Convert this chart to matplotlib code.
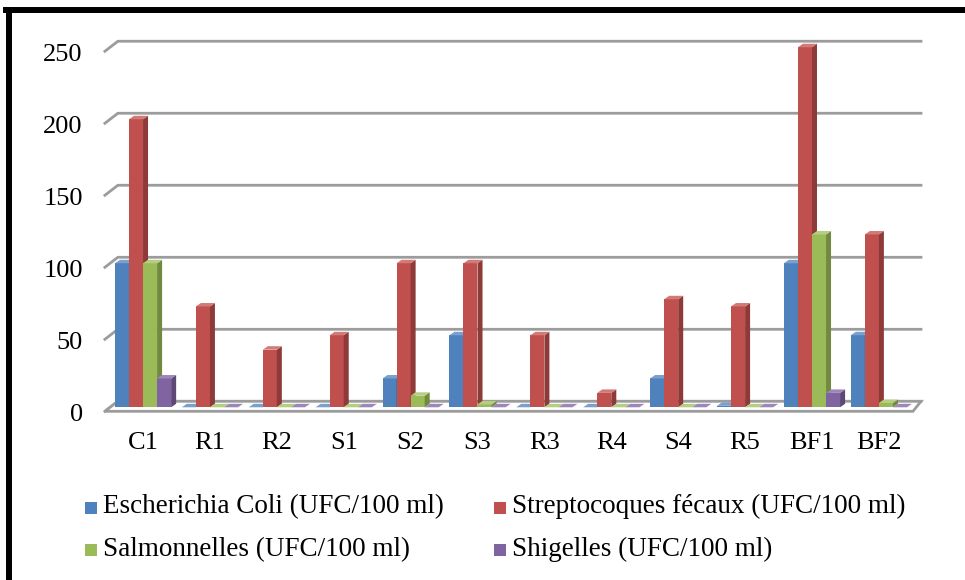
import matplotlib
matplotlib.use("Agg")
import matplotlib.pyplot as plt
from matplotlib.patches import Polygon, Rectangle
from matplotlib.lines import Line2D

plt.rcParams['font.family'] = ['Liberation Serif', 'DejaVu Serif']

# données (UFC/100 ml)
categories = ['C1', 'R1', 'R2', 'S1', 'S2', 'S3', 'R3', 'R4', 'S4', 'R5', 'BF1', 'BF2']
ecoli = [100, 0, 0, 0, 20, 50, 0, 0, 20, 1, 100, 50]
strep = [200, 70, 40, 50, 100, 100, 50, 10, 75, 70, 250, 120]
salmo = [100, 0, 0, 0, 8, 2, 0, 0, 0, 0, 120, 3]
shige = [20, 0, 0, 0, 0, 0, 0, 0, 0, 0, 10, 0]
series_names = ['Escherichia Coli (UFC/100 ml)', 'Streptocoques fécaux (UFC/100 ml)',
                'Salmonnelles (UFC/100 ml)', 'Shigelles (UFC/100 ml)']
y_ticks = [0, 50, 100, 150, 200, 250]

# couleurs style Excel : face, côté, dessus
colors = [('#4f81bd', '#3a6293', '#7aa0d0'),
          ('#c0504d', '#8e3a38', '#d27a77'),
          ('#9bbb59', '#728a40', '#b5cf80'),
          ('#8064a2', '#5d4877', '#9d86ba')]

fig = plt.figure(figsize=(9.65, 5.8), dpi=100)
ax = fig.add_axes([0.1087, 0.2891, 0.8471, 0.6419])
ax.set_xlim(-0.57, 11.65)
ax.set_ylim(-3, 255)
for s in ax.spines.values():
    s.set_visible(False)

bw = 0.21      # largeur barre (catégories)
dx = 0.075     # profondeur en x
dy = 2.4       # profondeur en y
gx = 0.194     # décalage mur arrière en x
gy_back = 4.15
gy_front = -2.8
x_left = -0.57
x_right = 11.63

# mur arrière + quadrillage
grid_c = '#9c9c9c'
for v in y_ticks:
    ax.add_line(Line2D([x_left, x_left + gx, x_right], [v + gy_front, v + gy_back, v + gy_back],
                       color=grid_c, lw=2.0, zorder=1, clip_on=False))

# plancher
floor = Polygon([(x_left, gy_front), (11.51, gy_front), (x_right, gy_back), (x_left + gx, gy_back)],
                closed=True, facecolor='white', edgecolor=grid_c, lw=2.0, zorder=1.5, clip_on=False)
ax.add_patch(floor)

all_series = [ecoli, strep, salmo, shige]
for ci in range(len(categories)):
    for si, vals in enumerate(all_series):
        v = vals[ci]
        x0 = ci - 2 * bw + si * bw
        face, side, top = colors[si]
        z = 2 + ci * 0.1 + si * 0.01
        ax.add_patch(Rectangle((x0, 0), bw, v, facecolor=face, edgecolor='none', zorder=z))
        ax.add_patch(Polygon([(x0 + bw, 0), (x0 + bw + dx, dy), (x0 + bw + dx, v + dy), (x0 + bw, v)],
                             closed=True, facecolor=side, edgecolor='none', zorder=z))
        ax.add_patch(Polygon([(x0, v), (x0 + dx, v + dy), (x0 + bw + dx, v + dy), (x0 + bw, v)],
                             closed=True, facecolor=top, edgecolor='none', zorder=z))

ax.set_xticks(range(len(categories)))
ax.set_xticklabels(categories, fontsize=19)
ax.set_yticks([v - 3.5 for v in y_ticks])
ax.set_yticklabels([str(v) for v in y_ticks], fontsize=19)
ax.tick_params(axis='x', length=0, pad=14)
ax.tick_params(axis='y', length=0, pad=16)

# légende
leg_pos = [(0.088, 0.126), (0.512, 0.126), (0.088, 0.053), (0.512, 0.053)]
for (lx, ly), name, (face, _, _) in zip(leg_pos, series_names, colors):
    fig.patches.append(Rectangle((lx, ly - 0.012), 0.0125, 0.021, transform=fig.transFigure,
                                 facecolor=face, edgecolor='none'))
    fig.text(lx + 0.0185, ly, name, fontsize=19.5, va='center', ha='left')

# cadre noir
fig.add_artist(Line2D([0.0093, 0.0093], [0.0, 0.983], transform=fig.transFigure, color='black', lw=4.3))
fig.add_artist(Line2D([0.006, 1.0], [0.983, 0.983], transform=fig.transFigure, color='black', lw=4.3))

fig.savefig('out.png', dpi=100)
